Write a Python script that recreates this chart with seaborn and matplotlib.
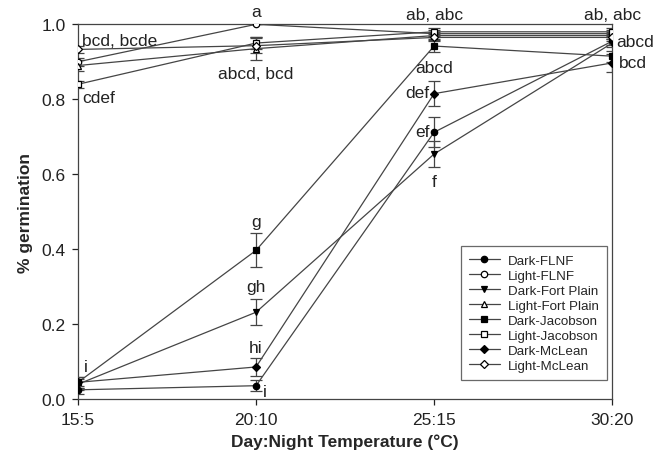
import matplotlib
matplotlib.use("Agg")
import matplotlib.pyplot as plt
import seaborn as sns
import pandas as pd
import numpy as np

temps = ["15:5", "20:10", "25:15", "30:20"]

series_names = ["Dark-FLNF", "Light-FLNF", "Dark-Fort Plain", "Light-Fort Plain",
                "Dark-Jacobson", "Light-Jacobson", "Dark-McLean", "Light-McLean"]

dark_flnf = [0.025, 0.036, 0.712, 0.955]
light_flnf = [0.900, 1.000, 0.975, 0.975]
dark_fort = [0.040, 0.232, 0.654, 0.950]
light_fort = [0.890, 0.935, 0.970, 0.970]
dark_jac = [0.045, 0.397, 0.942, 0.915]
light_jac = [0.840, 0.950, 0.980, 0.980]
dark_mcl = [0.045, 0.086, 0.815, 0.897]
light_mcl = [0.933, 0.943, 0.965, 0.965]

err_dark_flnf = [0.010, 0.015, 0.040, 0.010]
err_light_flnf = [0.010, 0.000, 0.010, 0.010]
err_dark_fort = [0.015, 0.035, 0.035, 0.010]
err_light_fort = [0.015, 0.030, 0.010, 0.010]
err_dark_jac = [0.015, 0.045, 0.015, 0.015]
err_light_jac = [0.010, 0.015, 0.010, 0.010]
err_dark_mcl = [0.015, 0.025, 0.033, 0.025]
err_light_mcl = [0.010, 0.020, 0.010, 0.010]

# letter annotations: (text, x index position, y value, ha)
ann_text = ["a", "bcd, bcde", "cdef", "abcd, bcd", "ab, abc", "ab, abc", "abcd", "bcd",
            "abcd", "def", "ef", "f", "g", "gh", "hi", "i", "i"]
ann_x = [1.0, 0.025, 0.025, 1.0, 2.0, 3.0, 3.025, 3.035,
         2.0, 1.975, 1.975, 2.0, 1.0, 1.0, 1.0, 0.035, 1.04]
ann_y = [1.034, 0.958, 0.806, 0.868, 1.027, 1.027, 0.955, 0.897,
         0.884, 0.818, 0.714, 0.582, 0.475, 0.301, 0.138, 0.088, 0.020]
ann_ha = ["center", "left", "left", "center", "center", "center", "left", "left",
          "center", "right", "right", "center", "center", "center", "center", "left", "left"]

values = [dark_flnf, light_flnf, dark_fort, light_fort, dark_jac, light_jac, dark_mcl, light_mcl]
errors = [err_dark_flnf, err_light_flnf, err_dark_fort, err_light_fort,
          err_dark_jac, err_light_jac, err_dark_mcl, err_light_mcl]
markers = ["o", "o", "v", "^", "s", "s", "D", "D"]
msizes = [4.6, 4.6, 5.0, 5.0, 4.2, 4.2, 4.2, 4.2]

rows = []
for name, vals in zip(series_names, values):
    for i, v in enumerate(vals):
        rows.append({"series": name, "x": i, "temp": temps[i], "germ": v})
df = pd.DataFrame(rows)

sns.set_style("ticks")
plt.rcParams["font.family"] = ["Liberation Sans", "DejaVu Sans"]

fig = plt.figure(figsize=(6.72, 4.60), dpi=100)
ax = fig.add_axes([0.116, 0.130, 0.795, 0.815])

line_col = "#454545"
for k, name in enumerate(series_names):
    sub = df[df["series"] == name]
    filled = name.startswith("Dark")
    ax.errorbar(sub["x"], sub["germ"], yerr=errors[k], fmt="none", ecolor=line_col,
                elinewidth=0.9, capsize=4.5, capthick=0.9, zorder=2)
    sns.lineplot(data=sub, x="x", y="germ", ax=ax, color=line_col, linewidth=0.9,
                 marker=markers[k], markersize=msizes[k],
                 markerfacecolor="black" if filled else "white",
                 markeredgecolor="black", markeredgewidth=0.9,
                 label=name, zorder=3, errorbar=None)

for t, x, y, ha in zip(ann_text, ann_x, ann_y, ann_ha):
    ax.text(x, y, t, ha=ha, va="center", fontsize=12.5, color="#222222")

ax.set_xlim(0, 3)
ax.set_ylim(0, 1.0)
ax.set_xticks(range(len(temps)))
ax.set_xticklabels(temps)
ax.set_yticks([0.0, 0.2, 0.4, 0.6, 0.8, 1.0])
ax.set_yticklabels(["0.0", "0.2", "0.4", "0.6", "0.8", "1.0"])
ax.tick_params(direction="out", length=4, width=0.9, labelsize=12.5, colors="#222222", pad=5)
for s in ax.spines.values():
    s.set_color("#444444")
    s.set_linewidth(0.9)
ax.set_xlabel("Day:Night Temperature (°C)", fontsize=12.5, fontweight="bold", labelpad=5)
ax.set_ylabel("% germination", fontsize=12.5, fontweight="bold", labelpad=6)

leg = ax.legend(loc="upper left", bbox_to_anchor=(0.717, 0.408), borderaxespad=0,
                fontsize=9.6, frameon=True, fancybox=False, edgecolor="#444444",
                handlelength=2.3, labelspacing=0.2, borderpad=0.6, handletextpad=0.6)
leg.get_frame().set_linewidth(0.9)

fig.savefig("out.png", dpi=100)
